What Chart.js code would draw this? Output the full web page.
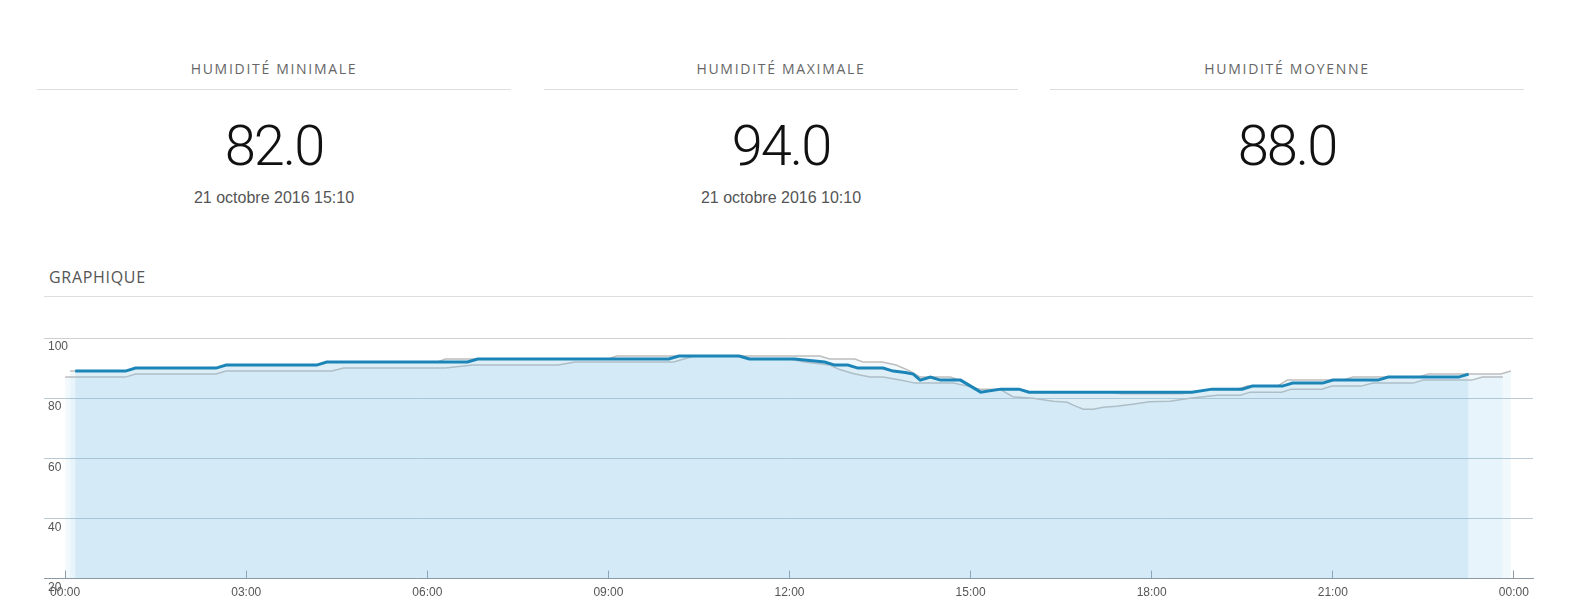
<!DOCTYPE html>
<html lang="fr">
<head>
<meta charset="utf-8">
<title>Humidité</title>
<script src="https://cdn.jsdelivr.net/npm/chart.js@4/dist/chart.umd.min.js"></script>
<style>
  html, body { margin: 0; padding: 0; background: #fff; }
  body { width: 1571px; height: 616px; position: relative; overflow: hidden; }
  .col { position: absolute; top: 0; width: 474px; height: 230px; }
  .col .h { position: absolute; left: 0; right: 0; top: 59px; text-align: center;
            font-family: "Open Sans", sans-serif; font-size: 14px; line-height: 20px;
            letter-spacing: 1.7px; color: #666; }
  .col .rule { position: absolute; left: 0; right: 0; top: 89px; height: 1px; background: #dedede; }
  .col .big { position: absolute; left: 0; right: 0; top: 118px; text-align: center;
              font-family: Roboto, sans-serif; font-weight: 300; font-size: 56px; line-height: 56px;
              letter-spacing: -2px; color: #111; }
  .col .date { position: absolute; left: 0; right: 0; top: 188px; text-align: center;
               font-family: "Liberation Sans", Arial, sans-serif; font-size: 16px; line-height: 20px; color: #555; }
  #gtitle { position: absolute; left: 49px; top: 266px; font-family: "Open Sans", sans-serif;
            font-size: 16px; line-height: 22px; letter-spacing: 0.7px; color: #555; }
  #grule { position: absolute; left: 44px; width: 1489px; top: 296px; height: 1px; background: #dedede; }
  #chart { position: absolute; left: 0; top: 300px; }
</style>
</head>
<body>
<div class="col" style="left:37px"><div class="h">HUMIDITÉ MINIMALE</div><div class="rule"></div><div class="big">82.0</div><div class="date">21 octobre 2016 15:10</div></div>
<div class="col" style="left:544px"><div class="h">HUMIDITÉ MAXIMALE</div><div class="rule"></div><div class="big">94.0</div><div class="date">21 octobre 2016 10:10</div></div>
<div class="col" style="left:1050px"><div class="h">HUMIDITÉ MOYENNE</div><div class="rule"></div><div class="big">88.0</div></div>
<div id="gtitle">GRAPHIQUE</div>
<div id="grule"></div>
<canvas id="chart" width="1571" height="316"></canvas>
<script>
// Time in minutes since 00:00, humidity in %
const todayTimes  = [10, 60, 70, 150, 160, 250, 260, 400, 410, 600, 610, 670, 680, 725, 755, 765, 778, 788, 813, 823, 835, 843, 850, 860, 870, 890, 910, 930, 948, 958, 1120, 1140, 1170, 1180, 1210, 1220, 1250, 1260, 1305, 1315, 1385, 1395];
const todayValues = [89, 89, 90, 90, 91, 91, 92, 92, 93, 93, 94, 94, 93, 93, 92, 91, 91, 90, 90, 89, 88.5, 88, 86, 87, 86, 86, 82, 83, 83, 82, 82, 83, 83, 84, 84, 85, 85, 86, 86, 87, 87, 88];

const day1Times  = [5, 60, 70, 150, 160, 250, 260, 370, 378, 540, 548, 750, 760, 785, 793, 812, 826, 840, 850, 880, 893, 910, 930, 950, 960, 1040, 1050, 1110, 1140, 1165, 1175, 1205, 1215, 1270, 1280, 1345, 1355, 1427, 1437];
const day1Values = [89, 89, 90, 90, 91, 91, 92, 92, 93, 93, 94, 94, 93, 93, 92, 92, 91, 89, 87, 87, 85.5, 82, 83, 83, 82, 82, 81.5, 81.5, 83, 83, 84, 84, 86, 86, 87, 87, 88, 88, 89];

const day2Times  = [0, 60, 70, 150, 160, 265, 277, 378, 405, 490, 507, 605, 625, 672, 682, 720, 735, 760, 770, 783, 800, 813, 830, 845, 883, 897, 909, 929, 942, 962, 982, 996, 1002, 1012, 1022, 1032, 1045, 1061, 1078, 1098, 1118, 1145, 1168, 1178, 1209, 1219, 1249, 1259, 1288, 1300, 1340, 1350, 1398, 1409, 1429];
const day2Values = [87, 87, 88, 88, 89, 89, 90, 90, 91, 91, 92, 92, 94, 94, 93, 93, 92, 91, 89.5, 88.2, 87, 87, 86, 85, 85, 84, 83, 83, 80.5, 80, 79, 78.6, 77.7, 76.3, 76.3, 77, 77.3, 78, 78.8, 79, 80, 81, 81, 82, 82, 83, 83, 84, 84, 85, 85, 86, 86, 87, 87];

const xTickValues = [0, 180, 360, 540, 720, 900, 1080, 1260, 1440];
const xTickLabels = ['00:00', '03:00', '06:00', '09:00', '12:00', '15:00', '18:00', '21:00', '00:00'];
const yTickValues = [20, 40, 60, 80, 100];

const toPoints = (t, v) => t.map((x, i) => ({ x: x, y: v[i] }));
const fontAxis = { family: '"Liberation Sans", Arial, sans-serif', size: 12 };

new Chart(document.getElementById('chart'), {
  type: 'line',
  data: {
    datasets: [
      { label: "Aujourd'hui", data: toPoints(todayTimes, todayValues),
        borderColor: '#1b85b8', borderWidth: 3, backgroundColor: 'rgba(140,194,227,0.2)', fill: 'start' },
      { label: 'Hier', data: toPoints(day1Times, day1Values),
        borderColor: '#bdbdbd', borderWidth: 1.5, backgroundColor: 'rgba(110,190,235,0.09)', fill: 'start' },
      { label: 'Avant-hier', data: toPoints(day2Times, day2Values),
        borderColor: '#bdbdbd', borderWidth: 1.5, backgroundColor: 'rgba(110,190,235,0.09)', fill: 'start' }
    ]
  },
  options: {
    responsive: false, animation: false, devicePixelRatio: 1,
    layout: { padding: { left: 36, right: 38, top: 38, bottom: 1 } },
    plugins: { legend: { display: false }, tooltip: { enabled: false } },
    elements: { point: { radius: 0 }, line: { tension: 0 } },
    scales: {
      x: {
        type: 'linear', min: -21, max: 1459,
        afterBuildTicks: (s) => { s.ticks = xTickValues.map(v => ({ value: v })); },
        ticks: { autoSkip: false, maxRotation: 0, padding: 15, color: '#555', font: fontAxis,
                 callback: (v) => xTickLabels[xTickValues.indexOf(v)] },
        grid: { drawOnChartArea: false, drawTicks: true, tickLength: -8, tickColor: '#8e9aa3' },
        border: { display: true, color: '#8e9aa3' }
      },
      y: {
        min: 20, max: 100,
        afterBuildTicks: (s) => { s.ticks = yTickValues.map(v => ({ value: v })); },
        ticks: { mirror: true, padding: 4, labelOffset: 9, color: '#555', font: fontAxis },
        grid: { drawTicks: false, color: (c) => (c.tick && c.tick.value === 100) ? '#d0d0d0' : '#bccad4' },
        border: { display: false }
      }
    }
  }
});
</script>
</body>
</html>
